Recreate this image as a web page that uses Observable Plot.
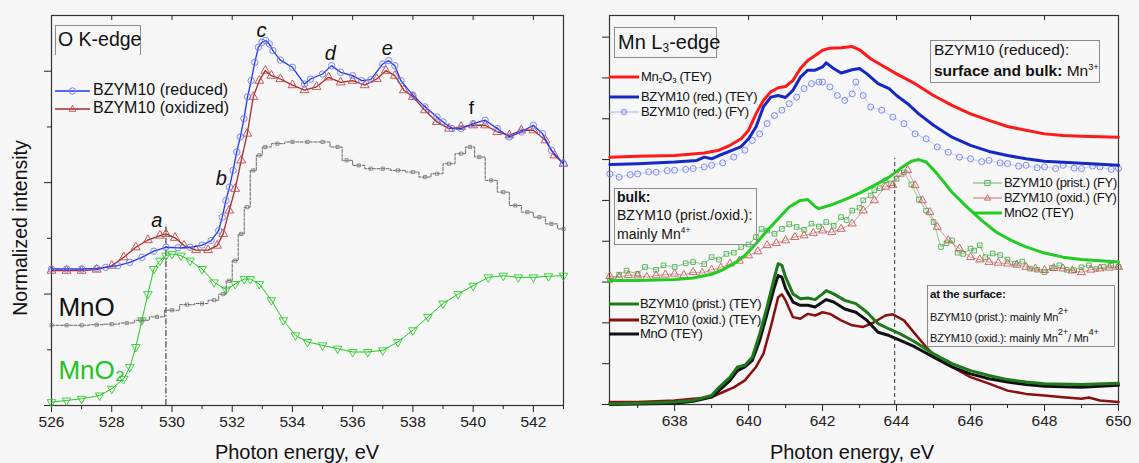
<!DOCTYPE html>
<html>
<head>
<meta charset="utf-8">
<script src="https://cdn.jsdelivr.net/npm/d3@7"></script>
<script src="https://cdn.jsdelivr.net/npm/@observablehq/plot@0.6"></script>
<style>
  body { margin: 0; background: #f7f7f7; font-family: "Liberation Sans", Arial, sans-serif; color: #111; }
  #fig { position: relative; width: 1139px; height: 463px; overflow: hidden; }
  .panel { position: absolute; top: 0; }
  .ov { position: absolute; white-space: nowrap; line-height: 1; }
  .box { position: absolute; border: 1px solid #8c8c8c; box-sizing: border-box; }
  .sw { position: absolute; overflow: visible; }
  sup { font-size: 0.6em; vertical-align: 0.7em; line-height: 0; }
  sub { font-size: 0.6em; vertical-align: -0.25em; line-height: 0; }
  b { font-weight: bold; }
</style>
</head>
<body>
<div id="fig"></div>
<script>
// ---------- O K-edge (photon energy eV, normalized intensity) ----------
const oTicksMajor = [526, 528, 530, 532, 534, 536, 538, 540, 542];
const oTicksMinor = [527, 529, 531, 533, 535, 537, 539, 541, 543];

const oReduced = [[526,2.45],[526.5,2.45],[527,2.45],[527.5,2.46],[527.8,2.48],[528.2,2.51],[528.6,2.57],[529,2.66],[529.4,2.77],[529.8,2.84],[530.2,2.83],[530.6,2.84],[531,2.88],[531.3,2.96],[531.55,3.14],[531.67,3.38],[531.79,3.68],[531.91,3.92],[532.03,4.22],[532.15,4.55],[532.27,4.82],[532.39,5.15],[532.51,5.54],[532.63,5.83],[532.75,6.16],[532.87,6.43],[532.99,6.52],[533.11,6.55],[533.23,6.49],[533.35,6.37],[533.6,6.2],[534,6.07],[534.4,5.77],[534.6,5.86],[535,5.95],[535.3,6.1],[535.6,5.98],[536,5.92],[536.3,5.83],[536.6,5.85],[537,6.13],[537.2,6.19],[537.4,6.1],[537.6,5.83],[538,5.57],[538.4,5.36],[538.8,5.18],[539,5.09],[539.3,4.97],[539.6,4.97],[540,5.06],[540.4,5.12],[540.8,4.97],[541.2,4.82],[541.6,4.91],[542,5.03],[542.3,4.88],[542.6,4.58],[543,4.34]];

const oOxidized = [[526,2.42],[526.5,2.42],[527,2.42],[527.5,2.44],[528,2.51],[528.4,2.66],[528.8,2.84],[529.2,2.97],[529.6,3.05],[529.8,3.08],[530.1,3.01],[530.4,2.87],[530.8,2.79],[531.2,2.79],[531.5,2.87],[531.7,3.08],[531.9,3.5],[532.1,3.89],[532.3,4.4],[532.5,4.88],[532.7,5.54],[532.9,5.83],[533.1,6.01],[533.3,5.92],[533.6,5.86],[534,5.75],[534.4,5.66],[534.8,5.72],[535.2,5.89],[535.6,5.8],[536,5.83],[536.4,5.75],[536.8,5.86],[537.1,6.01],[537.4,5.92],[537.7,5.66],[538,5.54],[538.4,5.3],[538.8,5.09],[539.2,4.97],[539.6,5.0],[540,5.03],[540.4,5.03],[540.8,4.91],[541.2,4.85],[541.6,4.94],[542,4.94],[542.4,4.76],[542.7,4.49],[543,4.34]];

const oMnO = [[526,1.44],[526.5,1.44],[527,1.44],[527.5,1.45],[528,1.46],[528.5,1.48],[529,1.53],[529.5,1.59],[530,1.71],[530.5,1.81],[531,1.83],[531.4,1.89],[531.7,2.0],[531.9,2.24],[532.1,2.6],[532.3,3.08],[532.5,3.56],[532.7,4.22],[532.9,4.49],[533.1,4.64],[533.5,4.7],[534,4.73],[534.5,4.73],[535,4.73],[535.5,4.64],[535.8,4.4],[536.2,4.31],[536.6,4.25],[537,4.25],[537.5,4.22],[538,4.19],[538.4,4.1],[538.8,4.16],[539.2,4.34],[539.6,4.52],[539.9,4.64],[540.2,4.46],[540.6,4.04],[541,3.83],[541.4,3.59],[541.8,3.47],[542.2,3.38],[542.6,3.26],[543,3.17]];

const oMnO2 = [[526,0.06],[526.5,0.09],[527,0.12],[527.6,0.18],[528,0.3],[528.4,0.48],[528.6,0.69],[528.8,1.05],[529,1.53],[529.2,2.0],[529.4,2.45],[529.6,2.6],[529.8,2.69],[530,2.72],[530.3,2.69],[530.6,2.6],[531,2.45],[531.4,2.21],[531.8,2.08],[532.1,2.18],[532.4,2.27],[532.6,2.27],[532.9,2.18],[533.3,1.89],[533.7,1.53],[534.1,1.26],[534.5,1.14],[535,1.08],[535.5,1.02],[536,0.96],[536.5,0.96],[537,0.99],[537.5,1.14],[538,1.35],[538.5,1.59],[539,1.83],[539.5,2.0],[540,2.15],[540.5,2.3],[541,2.33],[541.5,2.3],[542,2.3],[542.5,2.32],[543,2.33]];

const oEdgeA = 529.8;
const oPeakLabelsItalic = [
  {t: "a", e: 529.5, v: 3.32},
  {t: "b", e: 531.64, v: 4.08},
  {t: "c", e: 532.97, v: 6.73},
  {t: "d", e: 535.26, v: 6.32},
  {t: "e", e: 537.15, v: 6.41}
];
const oPeakLabelsUpright = [{t: "f", e: 539.94, v: 5.35}];
const oRefLabels = [
  {t: "MnO", e: 526.23, v: 1.76, c: "#111"},
  {t: "MnO\u2082", e: 526.23, v: 0.63, c: "#22c422"}
];

// ---------- Mn L3-edge ----------
const mnTicksMajor = [638, 640, 642, 644, 646, 648, 650];
const mnTicksMinor = [637, 639, 641, 643, 645, 647, 649];

const mnMn2O3 = [[636.25,6.06],[637,6.08],[638,6.1],[638.8,6.16],[639.2,6.23],[639.5,6.35],[639.8,6.51],[640,6.72],[640.2,7.12],[640.4,7.45],[640.6,7.66],[640.8,7.76],[641,7.79],[641.2,7.94],[641.4,8.23],[641.6,8.43],[641.8,8.55],[642,8.68],[642.2,8.73],[642.5,8.74],[642.8,8.77],[643,8.69],[643.3,8.47],[643.6,8.31],[644,8.1],[644.5,7.86],[645,7.57],[645.5,7.33],[646,7.12],[646.5,6.96],[647,6.81],[647.5,6.72],[648,6.63],[648.5,6.59],[649,6.57],[650,6.55]];

const mnRedTEY = [[636.25,5.88],[637,5.9],[638,5.94],[638.6,5.98],[638.8,6.06],[639,6.02],[639.2,6.1],[639.5,6.21],[639.8,6.32],[640,6.51],[640.2,6.8],[640.4,7.29],[640.6,7.53],[640.8,7.57],[641,7.52],[641.2,7.7],[641.4,8.02],[641.6,8.19],[641.8,8.19],[642,8.27],[642.1,8.37],[642.3,8.23],[642.5,8.12],[642.8,8.2],[643,8.23],[643.2,8.1],[643.5,7.86],[643.8,7.74],[644,7.57],[644.3,7.37],[644.6,7.12],[645,6.84],[645.5,6.55],[646,6.35],[646.5,6.2],[647,6.1],[647.5,6.02],[648,5.96],[649,5.91],[650,5.86]];

const mnRedFY = [[636.25,5.65],[636.5,5.57],[636.8,5.63],[637,5.65],[637.3,5.7],[637.5,5.69],[637.8,5.73],[638,5.74],[638.3,5.76],[638.5,5.78],[638.8,5.82],[639,5.86],[639.3,5.92],[639.6,6.06],[639.9,6.23],[640.1,6.47],[640.3,6.63],[640.5,6.88],[640.7,7.08],[640.9,7.21],[641.1,7.37],[641.3,7.53],[641.5,7.74],[641.7,7.86],[641.9,7.9],[642,7.9],[642.2,7.78],[642.4,7.57],[642.6,7.45],[642.8,7.61],[642.9,7.9],[643.1,7.57],[643.3,7.29],[643.6,7.21],[643.9,7.04],[644.2,6.88],[644.5,6.63],[644.8,6.51],[645.1,6.31],[645.4,6.18],[645.7,6.06],[646,6.02],[646.3,5.95],[646.5,5.98],[646.8,5.92],[647,5.9],[647.3,5.84],[647.5,5.86],[647.8,5.8],[648,5.82],[648.3,5.78],[648.5,5.86],[648.8,5.79],[649,5.78],[649.3,5.84],[649.5,5.82],[649.8,5.76],[650,5.78]];

const mnMnO2TEY = [[636.25,3.04],[637,3.04],[638,3.06],[638.5,3.1],[639,3.19],[639.3,3.3],[639.6,3.45],[639.9,3.65],[640.2,3.94],[640.5,4.26],[640.8,4.55],[641.1,4.84],[641.4,5.0],[641.6,5.02],[641.8,4.85],[641.9,4.8],[642.2,4.88],[642.6,5.02],[643,5.18],[643.4,5.37],[643.8,5.57],[644.1,5.78],[644.4,5.96],[644.6,6.0],[644.8,5.94],[645.1,5.65],[645.5,5.2],[645.9,4.84],[646.3,4.51],[646.7,4.22],[647.1,4.02],[647.5,3.86],[648,3.71],[648.5,3.61],[649,3.55],[650,3.49]];

const mnPristFY = [[636.25,3.04],[636.5,3.18],[636.7,3.28],[637,3.2],[637.2,3.37],[637.5,3.3],[637.7,3.41],[638,3.37],[638.3,3.46],[638.5,3.49],[638.8,3.44],[639,3.61],[639.2,3.55],[639.4,3.69],[639.6,3.72],[639.8,3.86],[640,3.92],[640.2,4.1],[640.35,4.3],[640.5,4.26],[640.7,4.18],[640.9,4.3],[641.1,4.42],[641.3,4.35],[641.5,4.28],[641.7,4.43],[641.9,4.36],[642.1,4.47],[642.3,4.38],[642.5,4.59],[642.65,4.52],[642.8,4.75],[643,4.82],[643.1,5.0],[643.3,5.12],[643.4,5.25],[643.55,5.3],[643.7,5.49],[643.85,5.42],[644,5.53],[644.2,5.69],[644.4,5.39],[644.6,5.02],[644.8,4.75],[645,4.47],[645.2,3.86],[645.35,3.95],[645.5,4.02],[645.65,3.72],[645.8,3.69],[646,3.82],[646.1,3.77],[646.25,3.9],[646.4,3.61],[646.6,3.7],[646.8,3.66],[647,3.55],[647.2,3.45],[647.4,3.5],[647.6,3.33],[647.8,3.3],[648,3.24],[648.2,3.35],[648.4,3.41],[648.6,3.3],[648.8,3.29],[649,3.36],[649.2,3.41],[649.4,3.32],[649.6,3.37],[649.8,3.4],[650,3.37]];

const mnOxidFY = [[636.25,3.14],[636.5,3.12],[636.75,3.17],[637,3.16],[637.25,3.12],[637.5,3.16],[637.75,3.18],[638,3.2],[638.25,3.17],[638.5,3.24],[638.75,3.22],[639,3.3],[639.25,3.35],[639.5,3.45],[639.75,3.52],[640,3.65],[640.25,3.75],[640.5,3.9],[640.75,3.95],[641,4.02],[641.25,4.1],[641.5,4.14],[641.75,4.2],[642,4.26],[642.25,4.22],[642.5,4.3],[642.8,4.43],[643.1,4.75],[643.4,5.0],[643.7,5.33],[643.9,5.37],[644.1,5.65],[644.3,5.74],[644.5,5.37],[644.7,5.0],[644.9,4.71],[645.1,4.35],[645.4,4.02],[645.7,3.82],[646,3.61],[646.25,3.55],[646.5,3.49],[646.75,3.47],[647,3.45],[647.25,3.42],[647.5,3.37],[647.75,3.33],[648,3.29],[648.25,3.34],[648.5,3.33],[648.75,3.28],[649,3.24],[649.25,3.3],[649.5,3.33],[649.75,3.35],[650,3.37]];

const mnPristTEY = [[636.25,0.02],[637,0.03],[638,0.06],[638.5,0.1],[639,0.22],[639.2,0.42],[639.5,0.67],[639.7,0.92],[639.9,0.96],[640.1,1.16],[640.3,1.73],[640.5,2.39],[640.7,3.12],[640.8,3.45],[640.9,3.41],[641,3.12],[641.2,2.71],[641.4,2.59],[641.6,2.61],[641.8,2.57],[642,2.71],[642.1,2.79],[642.3,2.71],[642.6,2.55],[642.9,2.47],[643.2,2.26],[643.5,1.98],[643.8,1.85],[644.1,1.73],[644.5,1.53],[645,1.24],[645.5,1.0],[646,0.83],[646.5,0.71],[647,0.61],[647.5,0.55],[648,0.51],[649,0.49],[650,0.52]];

const mnMnOTEY = [[636.25,0.0],[637,0.01],[638,0.03],[638.5,0.08],[639,0.18],[639.2,0.34],[639.5,0.59],[639.7,0.83],[639.9,0.92],[640.1,1.08],[640.3,1.57],[640.5,2.22],[640.7,2.88],[640.8,3.16],[640.9,3.12],[641,2.84],[641.2,2.51],[641.4,2.43],[641.6,2.43],[641.8,2.39],[642,2.51],[642.1,2.57],[642.3,2.51],[642.6,2.34],[642.9,2.26],[643.2,2.06],[643.5,1.77],[643.8,1.69],[644.1,1.57],[644.5,1.41],[645,1.16],[645.5,0.92],[646,0.75],[646.5,0.63],[647,0.55],[647.5,0.49],[648,0.45],[649,0.42],[650,0.47]];

const mnOxidTEY = [[636.25,0.06],[637,0.06],[637.5,0.08],[638,0.1],[638.5,0.14],[639,0.18],[639.3,0.3],[639.6,0.42],[639.9,0.59],[640.2,0.92],[640.4,1.24],[640.6,1.9],[640.8,2.63],[640.9,2.7],[641,2.55],[641.2,2.14],[641.4,2.1],[641.6,2.22],[641.8,2.18],[642,2.26],[642.2,2.22],[642.5,2.06],[642.8,1.94],[643.1,1.9],[643.4,2.02],[643.7,2.18],[643.9,2.21],[644.2,2.06],[644.5,1.73],[644.8,1.41],[645.1,1.12],[645.5,0.92],[646,0.67],[646.5,0.51],[647,0.34],[647.5,0.26],[648,0.22],[648.5,0.18],[649,0.14],[649.2,0.17],[649.5,0.1],[650,0.06]];

const mnDashedEnergy = 643.95;

// ---------- helpers ----------
const FONT = "'Liberation Sans', Arial, sans-serif";
const X = d => d[0], Y = d => d[1];
const fig = document.getElementById("fig");

function axisSet(major, minor, yMajor, yMinor, innerH) {
  const marks = [
    Plot.axisX({ticks: major, tickSize: 7, tickPadding: 3, label: null, fontSize: 15.5, stroke: "#222"}),
    Plot.axisX({ticks: minor, tickSize: 4, tickFormat: () => "", label: null}),
    Plot.tickX(major, {x: d => d, insetBottom: innerH - 5, stroke: "#222"}),
    Plot.axisY({ticks: yMajor, tickSize: 7, tickFormat: () => "", label: null})
  ];
  if (yMinor.length) marks.push(Plot.axisY({ticks: yMinor, tickSize: 4, tickFormat: () => "", label: null}));
  marks.push(Plot.frame({stroke: "#333", strokeWidth: 1.2}));
  return marks;
}

// ---------- left panel ----------
const leftPlot = Plot.plot({
  width: 570, height: 463,
  marginLeft: 51, marginRight: 7, marginTop: 15, marginBottom: 58,
  style: {background: "transparent", fontFamily: FONT, fontSize: "15.5px", color: "#222", overflow: "visible"},
  x: {domain: [526, 543]},
  y: {domain: [0, 7]},
  marks: [
    ...axisSet(oTicksMajor, oTicksMinor, [0, 2, 4, 6], [1, 3, 5], 390),
    Plot.ruleX([oEdgeA], {y1: 0, y2: 3.25, stroke: "#222", strokeWidth: 1, strokeDasharray: "6 2 1.5 2"}),
    Plot.line(oMnO2, {x: X, y: Y, stroke: "#25c825", strokeWidth: 1}),
    Plot.dot(oMnO2, {x: X, y: Y, symbol: "triangle", rotate: 180, r: 3.2, stroke: "#2ad02a", strokeWidth: 0.9, fill: "none"}),
    Plot.line(oMnO, {x: X, y: Y, curve: "step", stroke: "#555", strokeWidth: 0.9, strokeDasharray: "3 1.5"}),
    Plot.dot(oMnO, {x: X, y: Y, symbol: "square", r: 1.8, stroke: "#777", strokeWidth: 0.8, fill: "none"}),
    Plot.line(oOxidized, {x: X, y: Y, stroke: "#a82a2a", strokeWidth: 1.3}),
    Plot.dot(oOxidized, {x: X, y: Y, symbol: "triangle", r: 3.3, stroke: "#c04a4a", strokeWidth: 0.9, fill: "none"}),
    Plot.line(oReduced, {x: X, y: Y, stroke: "#2038f0", strokeWidth: 1.3}),
    Plot.dot(oReduced, {x: X, y: Y, symbol: "circle", r: 3.2, stroke: "#6e7cf5", strokeWidth: 0.9, fill: "none"}),
    Plot.text(oPeakLabelsItalic, {x: "e", y: "v", text: "t", fontSize: 20, fontStyle: "italic", fill: "#111"}),
    Plot.text(oPeakLabelsUpright, {x: "e", y: "v", text: "t", fontSize: 19, fill: "#111"}),
    Plot.text(oRefLabels, {x: "e", y: "v", text: "t", fontSize: 26, textAnchor: "start", fill: "c"})
  ]
});
leftPlot.classList.add("panel");
leftPlot.style.left = "0px";
fig.appendChild(leftPlot);

// ---------- right panel ----------
const rightPlot = Plot.plot({
  width: 569, height: 463,
  marginLeft: 39, marginRight: 21, marginTop: 15, marginBottom: 59,
  style: {background: "transparent", fontFamily: FONT, fontSize: "15.5px", color: "#222", overflow: "visible"},
  x: {domain: [636.24, 650]},
  y: {domain: [0, 9.53]},
  marks: [
    ...axisSet(mnTicksMajor, mnTicksMinor, [0, 1, 2, 3, 4, 5, 6, 7, 8, 9], [], 389),
    Plot.ruleX([mnDashedEnergy], {y1: 0, y2: 6.03, stroke: "#333", strokeWidth: 1, strokeDasharray: "4 3"}),
    Plot.line(mnPristFY, {x: X, y: Y, stroke: "#3da84a", strokeWidth: 0.7, strokeOpacity: 0.8}),
    Plot.dot(mnPristFY, {x: X, y: Y, symbol: "square", r: 2.6, stroke: "#4cb050", strokeWidth: 0.9, fill: "none"}),
    Plot.line(mnOxidFY, {x: X, y: Y, stroke: "#c05050", strokeWidth: 0.7, strokeOpacity: 0.8}),
    Plot.dot(mnOxidFY, {x: X, y: Y, symbol: "triangle", r: 3, stroke: "#c85a5a", strokeWidth: 0.9, fill: "none"}),
    Plot.line(mnMnO2TEY, {x: X, y: Y, stroke: "#22cc22", strokeWidth: 3}),
    Plot.line(mnRedFY, {x: X, y: Y, stroke: "#aab2ff", strokeWidth: 0.6}),
    Plot.dot(mnRedFY, {x: X, y: Y, symbol: "circle", r: 3, stroke: "#5e6ef2", strokeWidth: 0.8, fill: "none"}),
    Plot.line(mnMn2O3, {x: X, y: Y, stroke: "#ff1a1a", strokeWidth: 3}),
    Plot.line(mnRedTEY, {x: X, y: Y, stroke: "#1428c8", strokeWidth: 3}),
    Plot.line(mnOxidTEY, {x: X, y: Y, stroke: "#8a1010", strokeWidth: 2.5}),
    Plot.line(mnMnOTEY, {x: X, y: Y, stroke: "#111", strokeWidth: 3}),
    Plot.line(mnPristTEY, {x: X, y: Y, stroke: "#1c7a1c", strokeWidth: 3})
  ]
});
rightPlot.classList.add("panel");
rightPlot.style.left = "570px";
fig.appendChild(rightPlot);

// ---------- overlays: titles, legends, boxes ----------
function addText(html, left, cy, size, extra = {}) {
  const el = document.createElement("div");
  el.className = "ov";
  el.innerHTML = html;
  el.style.fontSize = size + "px";
  el.style.left = left + "px";
  el.style.top = (cy - size * 0.56) + "px";
  Object.assign(el.style, extra);
  fig.appendChild(el);
  return el;
}
function addBox(left, top, w, h, extra = {}) {
  const el = document.createElement("div");
  el.className = "box";
  Object.assign(el.style, {left: left + "px", top: top + "px", width: w + "px", height: h + "px"}, extra);
  fig.appendChild(el);
}
function markerPath(sym, cx, cy, r, color) {
  if (sym === "circle") return `<circle cx="${cx}" cy="${cy}" r="${r}" fill="none" stroke="${color}" stroke-width="0.9"/>`;
  if (sym === "square") return `<rect x="${cx - r}" y="${cy - r}" width="${2 * r}" height="${2 * r}" fill="none" stroke="${color}" stroke-width="0.9"/>`;
  if (sym === "triangle") return `<path d="M${cx},${cy - r * 1.1}L${cx + r},${cy + r * 0.7}L${cx - r},${cy + r * 0.7}Z" fill="none" stroke="${color}" stroke-width="0.9"/>`;
  return "";
}
function addSwatch(left, cy, len, color, width, sym, mcolor, r = 3) {
  const s = `<svg class="sw" width="${len}" height="12" style="left:${left}px;top:${cy - 6}px">` +
    `<line x1="0" y1="6" x2="${len}" y2="6" stroke="${color}" stroke-width="${width}"/>` +
    (sym ? markerPath(sym, len / 2, 6, r, mcolor) : "") + `</svg>`;
  fig.insertAdjacentHTML("beforeend", s);
}

const LEG = 13;               // right-panel legend text size
const LEG_STYLE = {letterSpacing: "-0.35px"};

// axis titles
addText("Normalized intensity", 0, 0, 19.5, {transform: "translate(21px, 228px) rotate(-90deg) translate(-50%, -50%)", transformOrigin: "0 0", top: "0px", left: "0px"});
addText("Photon energy, eV", 297, 453, 20, {transform: "translateX(-50%)"});
addText("Photon energy, eV", 852, 453, 20, {transform: "translateX(-50%)"});

// left panel box and legend
addBox(55, 25, 86, 30, {borderBottom: "none"});
addText("O K-edge", 58, 41, 19.5);
addSwatch(55, 91, 35, "#2038f0", 1.3, "circle", "#6e7cf5", 3.2);
addText("BZYM10 (reduced)", 93, 91, 16);
addSwatch(55, 109, 35, "#a82a2a", 1.3, "triangle", "#c04a4a", 3.3);
addText("BZYM10 (oxidized)", 93, 109, 16);

// right panel
addBox(614, 27, 103, 31);
addText("Mn L<sub>3</sub>-edge", 618, 43, 20);

addBox(930, 40, 170, 43);
addText("BZYM10 (reduced):", 934, 51, 15.5);
addText("<b>surface and bulk:</b> Mn<sup>3+</sup>", 934, 72, 15.5);

addSwatch(609, 77, 30, "#ff1a1a", 3);
addText("Mn<sub>2</sub>O<sub>3</sub> (TEY)", 641, 77, LEG, LEG_STYLE);
addSwatch(609, 97, 30, "#1428c8", 3);
addText("BZYM10 (red.) (TEY)", 641, 97, LEG, LEG_STYLE);
addSwatch(609, 112, 30, "#aab2ff", 1, "circle", "#5e6ef2", 2.6);
addText("BZYM10 (red.) (FY)", 641, 112, LEG, LEG_STYLE);

addSwatch(973, 183, 29, "#3da84a", 0.8, "square", "#4cb050", 2.6);
addText("BZYM10 (prist.) (FY)", 1004, 183, LEG, LEG_STYLE);
addSwatch(973, 198, 29, "#c05050", 0.8, "triangle", "#c85a5a", 3);
addText("BZYM10 (oxid.) (FY)", 1004, 198, LEG, LEG_STYLE);
addSwatch(973, 213, 29, "#22cc22", 3);
addText("MnO2 (TEY)", 1004, 213, LEG, LEG_STYLE);

addBox(614, 188, 143, 57);
addText("<b>bulk:</b>", 617, 198, 14);
addText("BZYM10 (prist./oxid.):", 617, 216, 14);
addText("mainly Mn<sup>4+</sup>", 617, 235, 14);

addSwatch(609, 304, 30, "#1c7a1c", 3);
addText("BZYM10 (prist.) (TEY)", 640, 304, LEG, LEG_STYLE);
addSwatch(609, 320, 30, "#8a1010", 3);
addText("BZYM10 (oxid.) (TEY)", 640, 320, LEG, LEG_STYLE);
addSwatch(609, 334, 30, "#111", 3);
addText("MnO (TEY)", 640, 334, LEG, LEG_STYLE);

addBox(927, 285, 188, 62);
addText("<b>at the surface:</b>", 930, 295, 11.5, {letterSpacing: "-0.2px"});
addText("BZYM10 (prist.): mainly Mn<sup style='font-size:0.85em'>2+</sup>", 930, 317, 11, {letterSpacing: "-0.2px"});
addText("BZYM10 (oxid.): mainly Mn<sup style='font-size:0.85em'>2+</sup>/ Mn<sup style='font-size:0.85em'>4+</sup>", 930, 338, 11, {letterSpacing: "-0.2px"});
</script>
</body>
</html>
